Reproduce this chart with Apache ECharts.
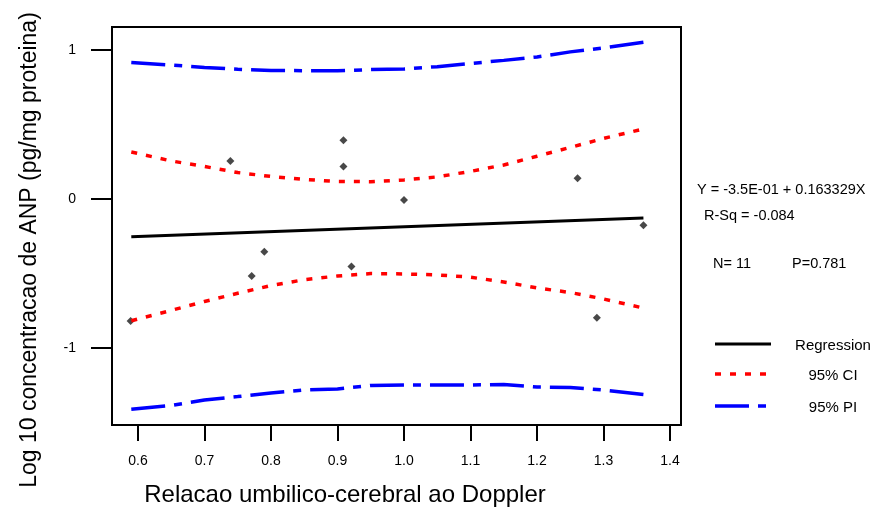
<!DOCTYPE html>
<html>
<head>
<meta charset="utf-8">
<script src="https://cdn.jsdelivr.net/npm/echarts@6/dist/echarts.min.js"></script>
<style>
  html, body { margin: 0; padding: 0; background: #ffffff; }
  #chart { width: 876px; height: 513px; }
</style>
</head>
<body>
<div id="chart"></div>
<script>
// Observed data: Doppler umbilical/cerebral ratio vs log10 ANP concentration
const pointX = [0.589, 0.739, 0.771, 0.790, 0.909, 0.909, 0.921, 1.000, 1.261, 1.290, 1.360];
const pointY = [-0.819, 0.255, -0.517, -0.354, 0.394, 0.217, -0.454, -0.007, 0.139, -0.797, -0.177];

// Fitted regression line (ends of the fitted range)
const regX = [0.59, 1.36];
const regY = [-0.253, -0.128];

// Confidence (CI) and prediction (PI) bands, sampled along x
const bandX   = [0.59, 0.65, 0.70, 0.75, 0.80, 0.85, 0.90, 0.95, 1.00, 1.05, 1.10, 1.15, 1.20, 1.25, 1.30, 1.36];
const ciUpper = [0.315, 0.255, 0.218, 0.177, 0.151, 0.131, 0.117, 0.116, 0.128, 0.148, 0.185, 0.228, 0.287, 0.346, 0.406, 0.470];
const ciLower = [-0.817, -0.748, -0.688, -0.633, -0.581, -0.542, -0.517, -0.501, -0.503, -0.510, -0.525, -0.557, -0.597, -0.628, -0.671, -0.732];
const piUpper = [0.915, 0.899, 0.883, 0.870, 0.862, 0.861, 0.861, 0.868, 0.872, 0.888, 0.909, 0.930, 0.953, 0.987, 1.013, 1.052];
const piLower = [-1.411, -1.386, -1.349, -1.326, -1.302, -1.282, -1.275, -1.252, -1.248, -1.248, -1.248, -1.245, -1.262, -1.265, -1.282, -1.313];

// Axis ticks
const xTicks = [0.6, 0.7, 0.8, 0.9, 1.0, 1.1, 1.2, 1.3, 1.4];
const yTicks = [-1, 0, 1];

// Fit statistics shown beside the plot
const statLines = ['Y = -3.5E-01 + 0.163329X', 'R-Sq = -0.084'];
const statN = 'N= 11';
const statP = 'P=0.781';
const legendNames = ['Regression', '95% CI', '95% PI'];

const FONT = '"Liberation Sans", Arial, Helvetica, sans-serif';
const RED = '#ff0000';
const BLUE = '#0000ff';
const CI_DASH = [6, 9];
const PI_DASH = [34, 9, 8, 9];

const zip = (xs, ys) => xs.map((x, i) => [x, ys[i]]);

const chart = echarts.init(document.getElementById('chart'), null, { renderer: 'canvas' });

const legendY = [344, 374, 406];
const legendStyles = [
  { stroke: '#000000', lineWidth: 3 },
  { stroke: RED, lineWidth: 3.5, lineDash: CI_DASH },
  { stroke: BLUE, lineWidth: 3.5, lineDash: [34, 9, 8] }
];

const graphics = [];
// regression statistics
graphics.push({ type: 'text', left: 697, top: 182, style: { text: statLines[0], font: '14.5px ' + FONT, fill: '#000' } });
graphics.push({ type: 'text', left: 704, top: 208, style: { text: statLines[1], font: '14.5px ' + FONT, fill: '#000' } });
graphics.push({ type: 'text', left: 713, top: 256, style: { text: statN, font: '14.5px ' + FONT, fill: '#000' } });
graphics.push({ type: 'text', left: 792, top: 256, style: { text: statP, font: '14.5px ' + FONT, fill: '#000' } });
// legend keys
legendNames.forEach((name, i) => {
  graphics.push({
    type: 'line',
    shape: { x1: 715, y1: legendY[i], x2: 771, y2: legendY[i] },
    style: Object.assign({ lineCap: 'butt' }, legendStyles[i])
  });
  graphics.push({
    type: 'text',
    x: 833, y: legendY[i] + 2,
    style: { text: name, font: '15px ' + FONT, fill: '#000', align: 'center', verticalAlign: 'middle' }
  });
});

const option = {
  backgroundColor: '#ffffff',
  animation: false,
  grid: {
    left: 112, top: 27, right: 195, bottom: 88,
    show: true, borderColor: '#000', borderWidth: 2, backgroundColor: 'transparent'
  },
  xAxis: {
    type: 'value',
    min: 0.561, max: 1.4165,
    splitLine: { show: false },
    axisLine: { show: true, onZero: false, lineStyle: { color: '#000', width: 2 } },
    axisTick: { show: true, inside: false, length: 16, customValues: xTicks, lineStyle: { color: '#000', width: 2 } },
    axisLabel: {
      customValues: xTicks, margin: 29, color: '#000', fontSize: 14, fontFamily: FONT,
      formatter: v => v.toFixed(1)
    },
    name: 'Relacao umbilico-cerebral ao Doppler',
    nameLocation: 'middle', nameGap: 58,
    nameTextStyle: { color: '#000', fontSize: 24, fontFamily: FONT, padding: [0, 103, 0, 0] }
  },
  yAxis: {
    type: 'value',
    min: -1.517, max: 1.154,
    splitLine: { show: false },
    axisLine: { show: true, onZero: false, lineStyle: { color: '#000', width: 2 } },
    axisTick: { show: true, inside: false, length: 21, customValues: yTicks, lineStyle: { color: '#000', width: 2 } },
    axisLabel: {
      customValues: yTicks, margin: 36, color: '#000', fontSize: 14, fontFamily: FONT,
      formatter: v => String(Math.round(v))
    },
    name: 'Log 10 concentracao de ANP (pg/mg proteina)',
    nameLocation: 'middle', nameGap: 71,
    nameTextStyle: { color: '#000', fontSize: 23, fontFamily: FONT, padding: [0, 48, 0, 0] }
  },
  series: [
    {
      name: legendNames[2] + ' upper', type: 'line', data: zip(bandX, piUpper),
      showSymbol: false, silent: true,
      lineStyle: { color: BLUE, width: 3.5, type: PI_DASH, cap: 'butt' }
    },
    {
      name: legendNames[2] + ' lower', type: 'line', data: zip(bandX, piLower),
      showSymbol: false, silent: true,
      lineStyle: { color: BLUE, width: 3.5, type: PI_DASH, cap: 'butt' }
    },
    {
      name: legendNames[1] + ' upper', type: 'line', data: zip(bandX, ciUpper),
      showSymbol: false, silent: true,
      lineStyle: { color: RED, width: 3.5, type: CI_DASH, cap: 'butt' }
    },
    {
      name: legendNames[1] + ' lower', type: 'line', data: zip(bandX, ciLower),
      showSymbol: false, silent: true,
      lineStyle: { color: RED, width: 3.5, type: CI_DASH, cap: 'butt' }
    },
    {
      name: legendNames[0], type: 'line', data: zip(regX, regY),
      showSymbol: false, silent: true,
      lineStyle: { color: '#000', width: 3 }
    },
    {
      name: 'Observed', type: 'scatter', data: zip(pointX, pointY),
      symbol: 'diamond', symbolSize: 8,
      itemStyle: { color: '#1a1a1a' }
    }
  ],
  graphic: graphics
};

chart.setOption(option);
</script>
</body>
</html>
